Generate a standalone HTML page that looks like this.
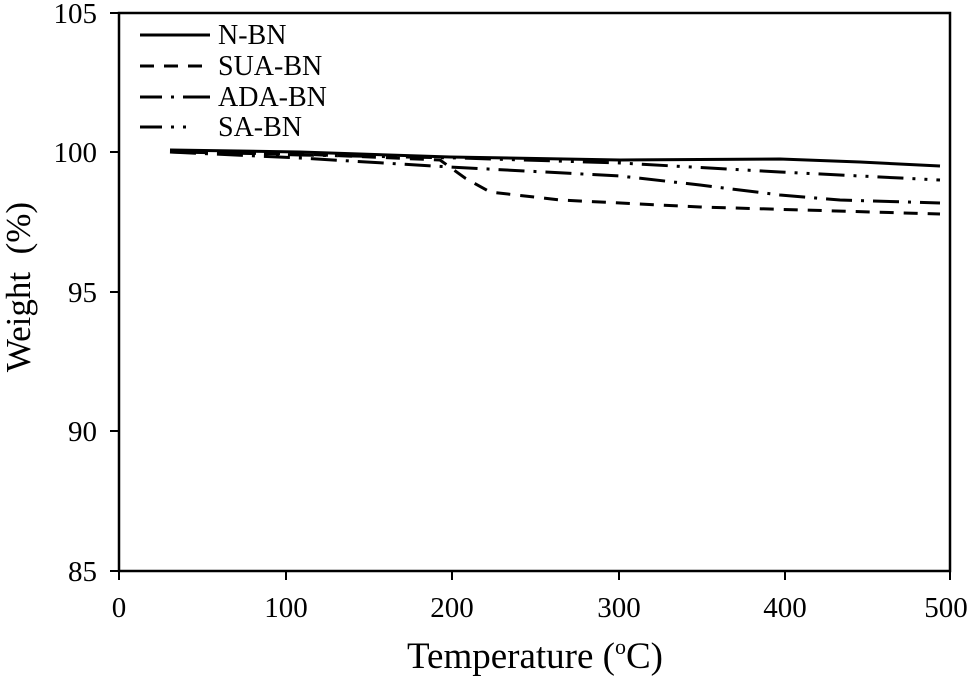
<!DOCTYPE html>
<html><head><style>body{margin:0;background:#fff}</style></head><body>
<svg width="975" height="677" xmlns="http://www.w3.org/2000/svg" font-family="Liberation Serif, serif" fill="#000">
<rect x="119" y="13" width="831" height="558" fill="none" stroke="#000" stroke-width="2.5"/>
<g stroke="#000" stroke-width="2">
<line x1="110" y1="13" x2="119" y2="13"/><line x1="110" y1="152" x2="119" y2="152"/><line x1="110" y1="292" x2="119" y2="292"/><line x1="110" y1="431" x2="119" y2="431"/><line x1="110" y1="571" x2="119" y2="571"/>
<line x1="286" y1="571" x2="286" y2="580"/><line x1="452" y1="571" x2="452" y2="580"/><line x1="619" y1="571" x2="619" y2="580"/><line x1="785" y1="571" x2="785" y2="580"/><line x1="950" y1="571" x2="950" y2="580"/><line x1="119" y1="571" x2="119" y2="580"/>
</g>
<g font-size="29" text-anchor="end">
<text x="97" y="23">105</text><text x="97" y="162">100</text><text x="97" y="302">95</text><text x="97" y="441">90</text><text x="97" y="581">85</text>
</g>
<g font-size="29" text-anchor="middle">
<text x="119" y="617">0</text><text x="286" y="617">100</text><text x="452" y="617">200</text><text x="619" y="617">300</text><text x="785" y="617">400</text><text x="946" y="617">500</text>
</g>
<text x="535" y="668" font-size="37" text-anchor="middle">Temperature (<tspan font-size="22" dy="-14">o</tspan><tspan dy="14">C)</tspan></text>
<text transform="translate(30,287) rotate(-90)" font-size="35" text-anchor="middle" xml:space="preserve">Weight  (%)</text>
<g fill="none" stroke="#000" stroke-width="3">
<path d="M170 150 L300 152 L450 157 L620 160 L780 159 L860 162 L940 166"/>
<path d="M170 152 L300 154 L440 160 L465 178 L490 192 L560 200 L700 207 L940 214" stroke-dasharray="14,10"/>
<path d="M170 152 L300 158 L450 167 L620 176 L700 185 L780 195 L840 200 L940 203" stroke-dasharray="26,9,3,9"/>
<path d="M170 151 L300 155 L460 158 L620 163 L780 172 L940 180" stroke-dasharray="26,9,3,9,3,9"/>
<line x1="140" y1="35" x2="210" y2="35"/>
<line x1="140" y1="66" x2="210" y2="66" stroke-dasharray="14,10"/>
<line x1="140" y1="97" x2="210" y2="97" stroke-dasharray="22,9,3,9,16,0"/>
<line x1="140" y1="127" x2="210" y2="127" stroke-dasharray="22,9,3,9,3,50"/>
</g>
<g font-size="28">
<text x="218" y="44">N-BN</text><text x="218" y="75">SUA-BN</text><text x="218" y="106">ADA-BN</text><text x="218" y="136">SA-BN</text>
</g>
</svg>
</body></html>
